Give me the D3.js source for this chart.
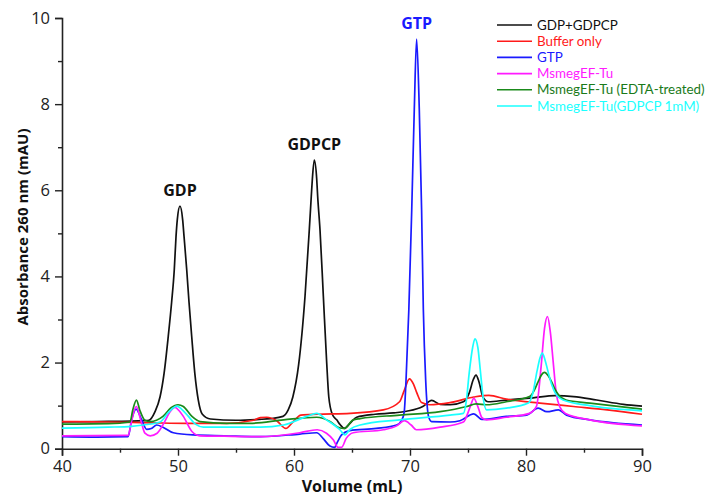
<!DOCTYPE html>
<html>
<head>
<meta charset="utf-8">
<script src="https://cdn.jsdelivr.net/npm/d3@7"></script>
<style>
  html, body { margin: 0; padding: 0; background: #fff; }
  svg { display: block; font-family: "Open Sans", "Noto Sans", sans-serif; }
</style>
</head>
<body>
<svg id="chart" width="712" height="496"></svg>
<script>
// ---------- data ----------
const seriesNames = ["GDP+GDPCP", "Buffer only", "GTP", "MsmegEF-Tu", "MsmegEF-Tu (EDTA-treated)", "MsmegEF-Tu(GDPCP 1mM)"];
const seriesColors = ["#111111", "#ff1a1a", "#1a1aff", "#ff1aff", "#1a8a1a", "#1affff"];

const volBlack = [40,43,46,47,47.5,48.0,48.45,48.8,49.16,49.45,49.68,49.83,49.94,50.17,50.4,50.52,50.75,50.95,51.18,51.45,51.75,52.1,52.8,55,57,58,59.05,59.5,59.9,60.4,60.95,61.32,61.49,61.58,61.75,61.96,62.04,62.24,62.53,62.82,63.0,63.3,63.68,64.0,64.34,64.83,65.4,67,68.56,69.7,71.1,71.87,72.6,73.45,74.6,75.1,75.45,75.69,75.95,76.27,76.75,78.3,80.6,82.5,84.1,86.1,88.4,90];
const absBlack = [0.62,0.63,0.64,0.65,0.66,0.85,1.2,1.75,2.61,3.4,4.16,4.93,5.32,5.63,5.32,4.93,4.16,3.4,2.61,1.75,1.13,0.8,0.69,0.66,0.68,0.7,0.75,0.9,1.2,1.95,3.54,5.09,5.86,6.25,6.70,6.25,5.86,5.09,3.54,1.99,1.2,0.8,0.67,0.55,0.47,0.59,0.73,0.8,0.83,0.87,0.98,1.12,1.03,1.02,1.09,1.29,1.6,1.71,1.55,1.21,1.09,1.13,1.18,1.23,1.21,1.13,1.03,0.99];

const volRed = [40,44,46,48,50.75,54.2,56.5,57.1,57.65,58.5,59.3,59.9,60.6,62,64.83,67.7,69.1,69.5,69.95,70.3,70.6,71.0,71.7,73.45,75.5,76.8,78.3,81.2,84.1,87.0,90];
const absRed = [0.63,0.62,0.61,0.60,0.59,0.59,0.66,0.72,0.73,0.65,0.47,0.62,0.78,0.8,0.82,0.9,1.09,1.35,1.62,1.5,1.29,1.07,1.02,1.07,1.2,1.24,1.15,1.06,0.98,0.9,0.8];

const volBlue = [40,43,45.7,46.0,46.38,46.87,47.3,47.7,48.16,48.7,49.6,51.3,54,57.1,60.5,61.96,62.5,63.1,63.5,63.7,64.1,64.8,67.1,68.85,69.3,69.5,69.66,69.9,70.15,70.37,70.57,70.8,71.0,71.15,71.35,71.6,71.87,73.45,74.3,75.5,76.2,78.3,80.06,81.05,81.8,82.8,83.5,85.5,90];
const absBlue = [0.28,0.27,0.28,0.67,0.92,0.67,0.45,0.47,0.55,0.5,0.37,0.32,0.3,0.28,0.34,0.37,0.24,0.06,0.03,0.13,0.32,0.42,0.47,0.55,0.67,0.85,1.6,3.23,5.55,7.88,9.51,7.88,5.55,3.23,1.6,0.75,0.63,0.62,0.65,0.81,0.68,0.75,0.78,0.94,0.86,0.90,0.78,0.67,0.55];

const volMagenta = [40,45.7,46.0,46.4,46.8,47.15,47.6,48.2,48.8,49.3,49.74,50.1,50.46,51.2,51.9,54,57.1,60.5,62,62.8,63.4,63.8,64.1,64.5,65.1,67.7,68.85,69.5,70.1,70.55,72.6,74.6,75.2,75.5,75.9,76.2,76.6,78.3,80.3,80.9,81.3,81.6,81.85,82.1,82.35,82.6,82.9,83.4,85.5,90];
const absMagenta = [0.30,0.31,0.65,0.98,0.65,0.36,0.30,0.36,0.6,0.85,0.96,0.88,0.75,0.40,0.30,0.29,0.28,0.37,0.44,0.36,0.2,0.03,0.03,0.24,0.37,0.44,0.53,0.65,0.55,0.44,0.5,0.62,0.98,1.17,0.94,0.72,0.67,0.73,0.82,0.98,1.9,2.8,3.07,2.7,2.0,1.3,0.98,0.82,0.67,0.53];

const volGreen = [40,44,45.86,46.1,46.42,46.7,47.15,47.6,48.7,49.4,50.0,50.46,51.2,51.9,54.2,56.2,59.1,61.96,63.1,63.8,64.34,65.1,65.7,69.1,72.6,74.9,75.7,76.6,78.3,80.3,80.7,81.05,81.35,81.6,81.9,82.2,82.5,82.8,83.45,85.5,90];
const absGreen = [0.57,0.58,0.62,0.9,1.13,0.9,0.66,0.63,0.75,0.95,1.02,0.98,0.75,0.63,0.59,0.59,0.67,0.73,0.63,0.5,0.47,0.67,0.7,0.78,0.86,0.98,1.04,1.02,1.09,1.21,1.35,1.56,1.72,1.77,1.7,1.56,1.38,1.25,1.13,1.06,0.92];

const volCyan = [40,44,46,47,48.45,49.2,49.9,50.3,50.9,51.5,52.2,57.1,59.1,61.1,61.96,62.8,63.96,64.4,64.8,65.7,69.1,73.45,74.6,74.85,75.1,75.4,75.6,75.85,76.05,76.3,76.6,78.3,80.2,80.6,80.95,81.2,81.4,81.65,81.9,82.2,82.5,83.2,85.5,90];
const absCyan = [0.48,0.5,0.52,0.55,0.62,0.85,0.99,0.92,0.75,0.57,0.5,0.5,0.55,0.75,0.82,0.67,0.44,0.32,0.44,0.55,0.67,0.78,0.82,1.1,1.75,2.35,2.55,2.35,1.85,1.2,0.9,0.94,1.06,1.3,1.8,2.1,2.22,2.05,1.79,1.5,1.3,1.13,1.0,0.88];

const xTicks = [40,50,60,70,80,90];
const xMinorTicks = [45,55,65,75,85];
const yTicks = [0,2,4,6,8,10];
const yMinorTicks = [1,3,5,7,9];

const peakLabels = ["GDP","GDPCP","GTP"];
const peakVol = [50.17,61.75,70.57];
const peakAbs = [5.63,6.70,9.51];
const peakLabelColors = ["#111111","#111111","#1a1aff"];

// ---------- chart ----------
const svg = d3.select("#chart");
const x = d3.scaleLinear().domain([40, 90]).range([62, 642]);
const y = d3.scaleLinear().domain([0, 10]).range([448.7, 18]);

const axisColor = "#222";
svg.append("g").attr("transform", `translate(0,${y(0)})`)
  .call(d3.axisBottom(x).tickValues(xTicks).tickSize(7).tickPadding(5).tickFormat(d3.format("d")));
svg.append("g").attr("transform", `translate(0,${y(0)})`)
  .call(d3.axisBottom(x).tickValues(xMinorTicks).tickSize(4).tickFormat(""))
  .call(g => g.select(".domain").remove());
svg.append("g").attr("transform", `translate(${x(40)},0)`)
  .call(d3.axisLeft(y).tickValues(yTicks).tickSize(7).tickPadding(5).tickFormat(d3.format("d")));
svg.append("g").attr("transform", `translate(${x(40)},0)`)
  .call(d3.axisLeft(y).tickValues(yMinorTicks).tickSize(4).tickFormat(""))
  .call(g => g.select(".domain").remove());

svg.selectAll(".domain").attr("stroke", axisColor).attr("stroke-width", 1.6);
svg.selectAll(".tick line").attr("stroke", axisColor).attr("stroke-width", 1.4);
svg.selectAll(".tick text").attr("fill", "#222").style("font-size", "16.5px").style("font-family", '"Open Sans", sans-serif');

// axis titles
svg.append("text")
  .attr("x", (x(40) + x(90)) / 2).attr("y", 492)
  .attr("text-anchor", "middle")
  .style("font-size", "16px").style("font-weight", "bold").attr("fill", "#111")
  .text("Volume (mL)");
svg.append("text")
  .attr("transform", `translate(28,227) rotate(-90)`)
  .attr("text-anchor", "middle")
  .style("font-size", "15px").style("font-weight", "bold").attr("fill", "#111")
  .text("Absorbance 260 nm (mAU)");

// series
const seriesVol = [volBlack, volRed, volBlue, volMagenta, volGreen, volCyan];
const seriesAbs = [absBlack, absRed, absBlue, absMagenta, absGreen, absCyan];
const line = d3.line().x(d => x(d[0])).y(d => y(d[1])).curve(d3.curveMonotoneX);
[0, 1, 2, 3, 4, 5].forEach(i => {
  const pts = seriesVol[i].map((v, j) => [v, seriesAbs[i][j]]);
  svg.append("path").datum(pts)
    .attr("d", line)
    .attr("fill", "none")
    .attr("stroke", seriesColors[i])
    .attr("stroke-width", 1.7)
    .attr("stroke-linejoin", "round");
});

// peak labels
peakLabels.forEach((t, i) => {
  svg.append("text")
    .attr("x", x(peakVol[i]))
    .attr("y", y(peakAbs[i]) - 10)
    .attr("text-anchor", "middle")
    .style("font-size", "16px").style("font-weight", "bold")
    .attr("fill", peakLabelColors[i])
    .text(t);
});

// legend
const legend = svg.append("g");
seriesNames.forEach((name, i) => {
  const yy = 25 + i * 16.2;
  legend.append("line")
    .attr("x1", 497).attr("x2", 532).attr("y1", yy).attr("y2", yy)
    .attr("stroke", seriesColors[i]).attr("stroke-width", 1.6);
  legend.append("text")
    .attr("x", 537).attr("y", yy).attr("dy", "0.35em")
    .style("font-size", "13.4px").style("font-family", "Lato, sans-serif")
    .attr("fill", i === 4 ? "#1a7a1a" : seriesColors[i])
    .text(name);
});
</script>
</body>
</html>
